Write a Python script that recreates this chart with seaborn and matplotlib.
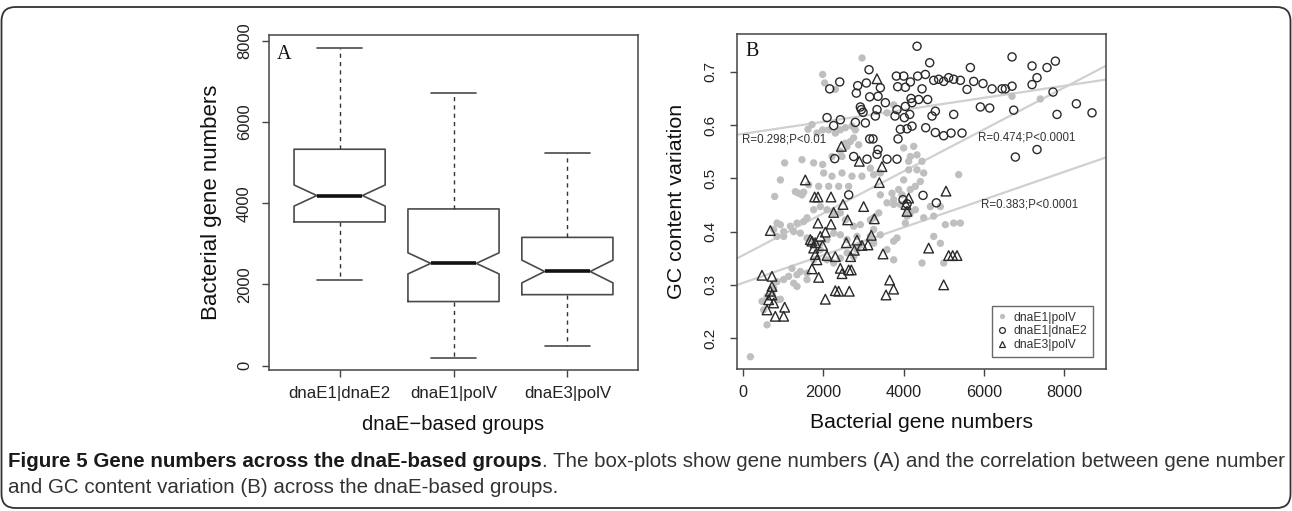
import numpy as np
import pandas as pd
import matplotlib
matplotlib.use("Agg")
import matplotlib.pyplot as plt
from matplotlib import font_manager
from matplotlib.lines import Line2D
from matplotlib.patches import FancyBboxPatch
from matplotlib.transforms import IdentityTransform
import seaborn as sns

# ---------------- Panel A: box-plot summary statistics ----------------
groups = ["dnaE1|dnaE2", "dnaE1|polV", "dnaE3|polV"]
whisker_low = [2100, 200, 480]
box_q1 = [3540, 1580, 1750]
box_median = [4190, 2520, 2320]
box_q3 = [5330, 3860, 3160]
whisker_high = [7820, 6720, 5240]
notch_low = [3930, 2260, 2040]
notch_high = [4450, 2780, 2600]

# ---------------- Panel B: scatter data ----------------
# dnaE1|polV (filled grey dots)
polV_genes = [2964, 1983, 2033, 2299, 1718, 1618, 1842, 1983, 2133, 2299, 2423, 2548, 2714, 2797, 2548, 2672,
              2880, 1037, 1468, 1759, 1983, 2216, 2465, 2008, 2216, 2465, 2714, 2963, 3170, 2631, 2382, 2133,
              1884, 1634, 1385, 1468, 788, 4333, 4125, 4457, 4125, 4333, 4001, 4166, 3876, 3710, 3959, 4291,
              4416,
              183, 598, 515, 473, 598, 722, 847, 930, 764, 847, 1013, 1137, 1262, 1345, 1345, 1220, 1428, 1594,
              1594, 1760, 1926, 2092, 2258, 2424, 2590, 2756, 2839, 2922, 3171, 3254, 3420, 3752, 3835, 4043,
              4085, 4168, 4292, 4085, 3918, 3752, 3586, 3379, 3254, 3171, 2922, 2756, 2549, 2424, 2258, 2092,
              1926, 1760, 1594, 1511, 1345, 1179, 1013, 930, 847, 764, 847, 1013, 1262, 1428, 1594, 1760, 1926,
              2092, 2258, 2424, 2590, 2839, 3254, 3586, 3752, 4458, 4749, 4915, 4998, 5039, 5247, 5413, 4749,
              4500,
              6700, 7405, 5371, 930, 1303, 1511, 2756, 2590, 2424, 3254, 3420, 4500, 4666, 4915, 3752, 3420,
              3752, 3586, 4251, 4001, 4168]
polV_gc = [0.726, 0.695, 0.679, 0.667, 0.601, 0.592, 0.585, 0.591, 0.591, 0.585, 0.591, 0.595, 0.598, 0.591,
           0.566, 0.569, 0.563, 0.529, 0.535, 0.529, 0.526, 0.541, 0.541, 0.510, 0.504, 0.510, 0.504, 0.504,
           0.519, 0.485, 0.485, 0.485, 0.485, 0.488, 0.472, 0.469, 0.466, 0.544, 0.532, 0.532, 0.516, 0.516,
           0.497, 0.479, 0.479, 0.472, 0.469, 0.485, 0.494,
           0.165, 0.225, 0.253, 0.269, 0.278, 0.284, 0.272, 0.273, 0.294, 0.306, 0.310, 0.316, 0.303, 0.297,
           0.319, 0.331, 0.325, 0.322, 0.310, 0.347, 0.366, 0.347, 0.341, 0.350, 0.360, 0.353, 0.366, 0.375,
           0.391, 0.404, 0.394, 0.382, 0.388, 0.416, 0.429, 0.435, 0.441, 0.441, 0.451, 0.451, 0.454, 0.435,
           0.426, 0.422, 0.413, 0.410, 0.422, 0.435, 0.435, 0.441, 0.447, 0.441, 0.426, 0.419, 0.416, 0.410,
           0.400, 0.413, 0.416, 0.404, 0.391, 0.391, 0.400, 0.397, 0.388, 0.382, 0.378, 0.385, 0.397, 0.394,
           0.385, 0.391, 0.378, 0.366, 0.347, 0.341, 0.391, 0.378, 0.341, 0.413, 0.416, 0.416, 0.429, 0.426,
           0.654, 0.649, 0.507, 0.497, 0.475, 0.474, 0.576, 0.560, 0.551, 0.507, 0.510, 0.510, 0.447, 0.447,
           0.460, 0.469, 0.638, 0.623, 0.560, 0.557, 0.541]

# dnaE1|dnaE2 (open circles)
e2_genes = [4334, 2159, 2408, 2823, 2856, 3072, 3138, 3362, 3155, 3420, 3819, 4002, 4168, 4043, 3852, 4350,
            4541, 4458, 4649, 4749, 4873, 4998, 5122, 5247, 5413, 5662, 5579, 5745, 5977, 6202, 6451, 6534,
            6700, 6700, 7198, 7198, 7322, 7571, 7779, 7721, 8302, 8692, 7820, 6741, 6783, 7322, 5911, 6143,
            5454, 5247, 5180, 4998, 4790, 4550, 4707, 4790, 4599, 4375, 4184, 4209, 4151, 4209, 4085, 3918,
            3860, 4018, 3835, 4043, 3337, 3545, 3786, 2922, 2947, 2989, 3296, 2798, 3047, 3155, 3238, 3362,
            3337, 3586, 3835, 2756, 3088, 2283, 2092, 2258, 2424, 3985, 4085, 4483, 4815, 2632]
e2_gc = [0.748, 0.668, 0.681, 0.660, 0.674, 0.679, 0.704, 0.654, 0.653, 0.670, 0.692, 0.692, 0.681, 0.671,
         0.672, 0.692, 0.695, 0.668, 0.717, 0.684, 0.686, 0.682, 0.689, 0.686, 0.684, 0.708, 0.667, 0.682,
         0.678, 0.668, 0.668, 0.668, 0.673, 0.728, 0.711, 0.676, 0.689, 0.708, 0.720, 0.662, 0.640, 0.623,
         0.620, 0.628, 0.540, 0.554, 0.634, 0.632, 0.585, 0.620, 0.585, 0.580, 0.586, 0.595, 0.617, 0.626,
         0.648, 0.648, 0.650, 0.642, 0.620, 0.598, 0.593, 0.592, 0.574, 0.614, 0.629, 0.635, 0.629, 0.642,
         0.617, 0.634, 0.629, 0.624, 0.617, 0.605, 0.604, 0.574, 0.574, 0.554, 0.545, 0.536, 0.536, 0.541,
         0.536, 0.537, 0.614, 0.599, 0.610, 0.460, 0.452, 0.468, 0.454, 0.469]

# dnaE3|polV (open triangles)
e3_genes = [1784, 1867, 2191, 2490, 3004, 2257, 2606, 3270, 1867, 2191, 680, 1676, 1717, 1800, 1925, 2050,
            1759, 1983, 2573, 2838, 2772, 2963, 3112, 3195, 3486, 1800, 1842, 2091, 2299, 2680, 1717, 1884,
            2423, 2465, 2631, 2697, 472, 721, 721, 680, 721, 638, 763, 597, 1037, 804, 1012, 2050, 2299,
            2382, 2647, 3652, 3751, 3561, 4059, 4084, 4125, 3336, 2448, 2896, 3461, 1551, 3395, 5055,
            4623, 5121, 5221, 5329, 4997]
e3_gc = [0.465, 0.465, 0.465, 0.451, 0.447, 0.436, 0.422, 0.424, 0.416, 0.414, 0.402, 0.385, 0.382, 0.379,
         0.391, 0.399, 0.369, 0.374, 0.379, 0.384, 0.365, 0.374, 0.375, 0.393, 0.358, 0.357, 0.347, 0.355,
         0.353, 0.353, 0.330, 0.314, 0.331, 0.321, 0.328, 0.328, 0.318, 0.316, 0.297, 0.288, 0.281, 0.272,
         0.266, 0.253, 0.258, 0.241, 0.241, 0.273, 0.289, 0.288, 0.288, 0.309, 0.292, 0.281, 0.451, 0.438,
         0.463, 0.687, 0.560, 0.532, 0.522, 0.497, 0.492, 0.476, 0.369, 0.355, 0.355, 0.355, 0.300]

# regression fits (intercept, slope) and their labels
fit_groups = ["dnaE1|dnaE2", "dnaE1|polV", "dnaE3|polV"]
fit_intercept = [0.5836, 0.3556, 0.3037]
fit_slope = [1.126e-5, 3.936e-5, 2.606e-5]
fit_labels = ["R=0.298;P<0.01", "R=0.474;P<0.0001", "R=0.383;P<0.0001"]
fit_label_x = [-25, 5853, 5928]
fit_label_y = [0.5727, 0.5765, 0.4506]

caption_bold = "Figure 5 Gene numbers across the dnaE-based groups"
caption_rest1 = ". The box-plots show gene numbers (A) and the correlation between gene number"
caption_line2 = "and GC content variation (B) across the dnaE-based groups."

# ---------------- styling ----------------
sns.set_theme(style="ticks")
plt.rcParams['font.family'] = ['Liberation Sans', 'DejaVu Sans']
plt.rcParams['axes.unicode_minus'] = True

avail = {f.name for f in font_manager.fontManager.ttflist}
cap_font = 'Liberation Sans Narrow' if 'Liberation Sans Narrow' in avail else 'Liberation Sans'

W, H = 1292, 511
fig = plt.figure(figsize=(W / 100, H / 100), dpi=100)
fig.patch.set_facecolor('white')

axA = fig.add_axes([269 / W, (H - 370) / H, (638 - 269) / W, (370 - 35.5) / H])
axB = fig.add_axes([737 / W, (H - 369) / H, (1106 - 737) / W, (369 - 34) / H])

SPINE = '#444444'
for ax in (axA, axB):
    for sp in ax.spines.values():
        sp.set_visible(True)
        sp.set_color(SPINE)
        sp.set_linewidth(1.1)
    ax.tick_params(direction='out', length=5.2, width=1.0, color=SPINE, labelcolor='#222222')
    ax.set_facecolor('white')

# ---------------- Panel A ----------------
stats = []
for g, wl, a, m, b, wh, cl, ch in zip(groups, whisker_low, box_q1, box_median, box_q3,
                                       whisker_high, notch_low, notch_high):
    stats.append(dict(label=g, whislo=wl, q1=a, med=m, q3=b, whishi=wh,
                      cilo=cl, cihi=ch, fliers=[]))
positions = np.arange(1, len(groups) + 1)
axA.bxp(stats, positions=positions, widths=0.8, shownotches=True, showfliers=False,
        boxprops=dict(color='#4a4a4a', linewidth=1.2),
        medianprops=dict(color='#111111', linewidth=2.6),
        whiskerprops=dict(color='#333333', linewidth=1.0, linestyle=(0, (3, 3))),
        capprops=dict(color='#4a4a4a', linewidth=1.2))
axA.set_xlim(0.38, 3.62)
axA.set_ylim(-105, 8130)
axA.set_xticks(positions)
axA.set_xticklabels(groups, fontsize=12.2)
axA.set_yticks([0, 2000, 4000, 6000, 8000])
axA.set_yticklabels(["0", "2000", "4000", "6000", "8000"], fontsize=11.9, rotation=90, va='center')
axA.tick_params(axis='x', pad=6.5)
axA.tick_params(axis='y', pad=7)
axA.set_xlabel("dnaE\u2212based groups", fontsize=14.6, labelpad=10, color='#111111')
axA.set_ylabel("Bacterial gene numbers", fontsize=16, labelpad=10.5, color='#111111')
axA.text(0.021, 0.972, "A", transform=axA.transAxes, ha='left', va='top',
         fontsize=14.5, family=['Liberation Serif', 'DejaVu Serif'], color='#111111')

# ---------------- Panel B ----------------
for b0, m in zip(fit_intercept, fit_slope):
    axB.axline((0, b0), slope=m, color='#d0d0d0', linewidth=1.6, zorder=1)

df_pv = pd.DataFrame({"genes": polV_genes, "gc": polV_gc})
df_e2 = pd.DataFrame({"genes": e2_genes, "gc": e2_gc})
df_e3 = pd.DataFrame({"genes": e3_genes, "gc": e3_gc})

sns.scatterplot(data=df_pv, x="genes", y="gc", ax=axB, marker='o', s=28,
                color='#bfbfbf', edgecolor='none', linewidth=0, zorder=2)
sns.scatterplot(data=df_e2, x="genes", y="gc", ax=axB, marker='o', s=34,
                facecolor='none', edgecolor='#2a2a2a', linewidth=1.0, zorder=3)
sns.scatterplot(data=df_e3, x="genes", y="gc", ax=axB, marker='^', s=48,
                facecolor='none', edgecolor='#2a2a2a', linewidth=1.0, zorder=4)

for lab, lx, ly in zip(fit_labels, fit_label_x, fit_label_y):
    axB.text(lx, ly, lab, ha='left', va='center', fontsize=8.3, color='#333333', zorder=5)

axB.set_xlim(-150, 9040)
axB.set_ylim(0.142, 0.771)
axB.set_xticks([0, 2000, 4000, 6000, 8000])
axB.set_xticklabels(["0", "2000", "4000", "6000", "8000"], fontsize=11.7)
axB.set_yticks([0.2, 0.3, 0.4, 0.5, 0.6, 0.7])
axB.set_yticklabels(["0.2", "0.3", "0.4", "0.5", "0.6", "0.7"], fontsize=11, rotation=90, va='center')
axB.tick_params(axis='x', pad=6.5)
axB.tick_params(axis='y', pad=8.6)
axB.set_xlabel("Bacterial gene numbers", fontsize=15.2, labelpad=9, color='#111111')
axB.set_ylabel("GC content variation", fontsize=15.4, labelpad=13, color='#111111')
axB.text(0.022, 0.976, "B", transform=axB.transAxes, ha='left', va='top',
         fontsize=14.5, family=['Liberation Serif', 'DejaVu Serif'], color='#111111')

handles = [
    Line2D([], [], linestyle='', marker='o', markersize=3.8, markerfacecolor='#bfbfbf',
           markeredgecolor='none'),
    Line2D([], [], linestyle='', marker='o', markersize=4.2, markerfacecolor='none',
           markeredgecolor='#2a2a2a', markeredgewidth=0.9),
    Line2D([], [], linestyle='', marker='^', markersize=5.0, markerfacecolor='none',
           markeredgecolor='#2a2a2a', markeredgewidth=0.9),
]
leg = axB.legend(handles, ["dnaE1|polV", "dnaE1|dnaE2", "dnaE3|polV"],
                 loc='lower right', bbox_to_anchor=(0.965, 0.037), borderaxespad=0,
                 fontsize=8.7, frameon=True, fancybox=False, handlelength=0.9,
                 handletextpad=0.5, labelspacing=0.15, borderpad=0.45)
leg.get_frame().set_edgecolor('#444444')
leg.get_frame().set_linewidth(1.0)
for t in leg.get_texts():
    t.set_color('#333333')

# ---------------- caption & frame ----------------
fs = 13.0
t1 = fig.text(8 / W, 1 - 461 / H, caption_bold, fontsize=fs, fontweight='bold',
              family=[cap_font, 'DejaVu Sans'], color='#1a1a1a', ha='left', va='center')
t2 = fig.text(0.5, 1 - 461 / H, caption_rest1, fontsize=fs,
              family=[cap_font, 'DejaVu Sans'], color='#333333', ha='left', va='center')
t3 = fig.text(8 / W, 1 - 487 / H, caption_line2, fontsize=fs,
              family=[cap_font, 'DejaVu Sans'], color='#333333', ha='left', va='center')
fig.canvas.draw()
r = fig.canvas.get_renderer()
w_total = t1.get_window_extent(r).width + t2.get_window_extent(r).width
fs2 = fs * (1276.0 / w_total)
for t in (t1, t2, t3):
    t.set_fontsize(fs2)
fig.canvas.draw()
bb1 = t1.get_window_extent(r)
t2.set_x(bb1.x1 / W)

frame = FancyBboxPatch((1.5, 3.0), 1289.0, 501.0, boxstyle="round,pad=0,rounding_size=14",
                       transform=IdentityTransform(), fill=False, edgecolor='#333333',
                       linewidth=1.3)
fig.add_artist(frame)

fig.savefig("out.png", dpi=100, facecolor='white')
